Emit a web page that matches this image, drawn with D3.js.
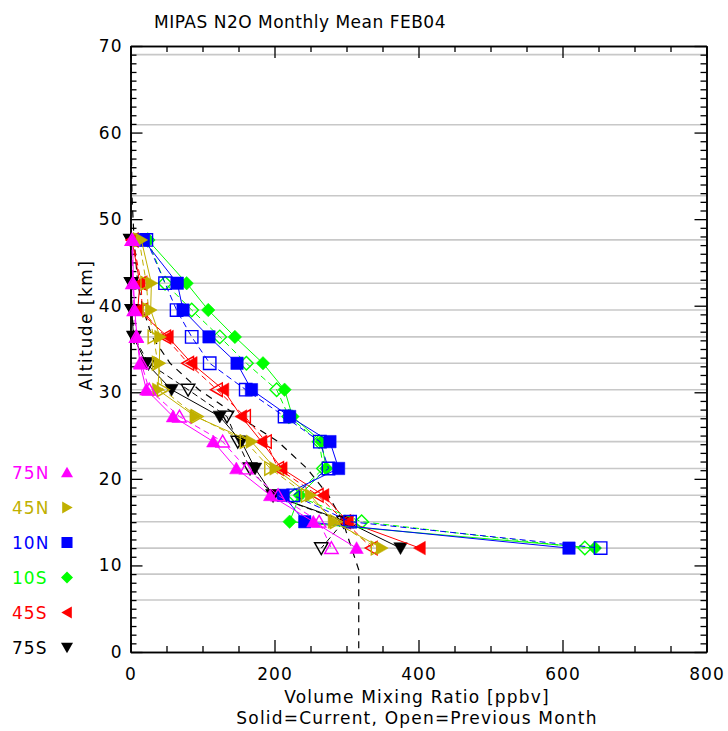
<!DOCTYPE html>
<html><head><meta charset="utf-8">
<script src="https://cdn.jsdelivr.net/npm/d3@7"></script>
<style>
html,body{margin:0;padding:0;background:#fff;}
svg{display:block;font-family:"DejaVu Sans",sans-serif;}
</style></head>
<body>
<svg id="chart" width="728" height="731"></svg>
<script>
// ---- data ----
const titleText = "MIPAS N2O Monthly Mean FEB04";
const xLabel = "Volume Mixing Ratio [ppbv]";
const xLabel2 = "Solid=Current, Open=Previous Month";
const yLabel = "Altitude [km]";
const xTicks = [0, 200, 400, 600, 800];
const yTicks = [0, 10, 20, 30, 40, 50, 60, 70];
const gridAltitudes = [6, 9, 12, 15.05, 18.1, 21.2, 24.3, 27.2, 30.3, 33.35, 36.4, 39.5, 42.6, 47.6, 52.7, 60.9, 69];
const altitudes = [47.6, 42.6, 39.5, 36.4, 33.35, 30.3, 27.2, 24.3, 21.2, 18.1, 15.05, 12.0];
const bands = ["75N", "45N", "10N", "10S", "45S", "75S"];
const bandColors = ["#ff00ff", "#c0b000", "#0000ff", "#00ff00", "#ff0000", "#000000"];
const bandShapes = ["up", "right", "square", "diamond", "left", "down"];
// current month (solid)
const cur75N = [3, 4, 6, 9, 13, 22, 59, 115, 147, 194, 254, 314];
const cur45N = [15, 29, 28, 41, 40, 38, 90, 168, 201, 250, 282, 349];
const cur10N = [18, 65, 73, 109, 148, 168, 221, 277, 289, 212, 242, 609];
const cur10S = [24, 78, 108, 145, 184, 214, 225, 265, 272, 235, 221, 645];
const cur45S = [2, 13, 10, 52, 85, 129, 154, 182, 210, 268, 302, 402];
const cur75S = [0, 1, 2, 4, 22, 57, 124, 154, 173, 198, 300, 375];
// previous month (open)
const prev75N = [2, 3, 5, 8, 15, 26, 68, 128, 161, 205, 262, 279];
const prev45N = [12, 22, 25, 32, 38, 45, 92, 160, 194, 245, 285, 342];
const prev10N = [22, 48, 64, 85, 110, 160, 214, 263, 275, 226, 305, 653];
const prev10S = [24, 48, 85, 124, 161, 203, 220, 262, 268, 228, 321, 631];
const prev45S = [3, 15, 16, 48, 80, 120, 159, 188, 205, 260, 298, 335];
const prev75S = [0, 1, 2, 5, 25, 80, 134, 149, 166, 198, 296, 265];
// reference (dashed black) profile
const refAlt = [69, 60.9, 52.7, 47.6, 42.6, 39.5, 36.4, 33.35, 30.3, 27.2, 24.3, 21.2, 18.1, 15.05, 12.0, 9.5, 0];
const refVal = [1, 1, 2, 5, 10, 18, 30, 55, 95, 150, 205, 245, 275, 295, 307, 317, 317];

const curSeries = [cur75N, cur45N, cur10N, cur10S, cur45S, cur75S];
const prevSeries = [prev75N, prev45N, prev10N, prev10S, prev45S, prev75S];

// ---- drawing ----
const svg = d3.select("#chart");
const x = d3.scaleLinear().domain([0, 800]).range([130.5, 706.5]);
const y = d3.scaleLinear().domain([0, 70]).range([652, 46]);
const fontFam = '"DejaVu Sans", sans-serif';

function shapePath(t, s) {
  const h = s / 2;
  switch (t) {
    case "up": return `M${-h},${h*0.8}L${h},${h*0.8}L0,${-h*0.95}Z`;
    case "down": return `M${-h},${-h*0.8}L${h},${-h*0.8}L0,${h*0.95}Z`;
    case "right": return `M${-h*0.8},${-h}L${-h*0.8},${h}L${h*0.95},0Z`;
    case "left": return `M${h*0.8},${-h}L${h*0.8},${h}L${-h*0.95},0Z`;
    case "square": const q = h*0.92; return `M${-q},${-q}L${q},${-q}L${q},${q}L${-q},${q}Z`;
    case "diamond": return `M0,${-h}L${h},0L0,${h}L${-h},0Z`;
  }
}

// gridlines
svg.append("g").selectAll("line").data(gridAltitudes).join("line")
  .attr("x1", x(0)).attr("x2", x(800))
  .attr("y1", d => y(d)).attr("y2", d => y(d))
  .attr("stroke", "#c8c8c8").attr("stroke-width", 1.6);

// axes
const minorX = d3.range(0, 801, 50).filter(v => v % 200 !== 0);
const minorY = d3.range(0, 71, 1).filter(v => v % 10 !== 0);
function tickAxis(g, axis) {
  g.call(axis);
  g.select(".domain").attr("stroke", "#000").attr("stroke-width", 1.5);
  g.selectAll(".tick line").attr("stroke", "#000").attr("stroke-width", 1.3);
  g.selectAll("text").attr("font-size", 17).attr("font-family", fontFam)
    .attr("fill", "#000").attr("letter-spacing", 1);
}
// bottom
tickAxis(svg.append("g").attr("transform", `translate(0,${y(0)})`),
  d3.axisBottom(x).tickValues(xTicks).tickSize(-12).tickPadding(16).tickSizeOuter(0));
tickAxis(svg.append("g").attr("transform", `translate(0,${y(0)})`),
  d3.axisBottom(x).tickValues(minorX).tickSize(-6).tickFormat("").tickSizeOuter(0));
// top
tickAxis(svg.append("g").attr("transform", `translate(0,${y(70)})`),
  d3.axisTop(x).tickValues(xTicks).tickSize(-12).tickFormat("").tickSizeOuter(0));
tickAxis(svg.append("g").attr("transform", `translate(0,${y(70)})`),
  d3.axisTop(x).tickValues(minorX).tickSize(-6).tickFormat("").tickSizeOuter(0));
// left
tickAxis(svg.append("g").attr("transform", `translate(${x(0)},0)`),
  d3.axisLeft(y).tickValues(yTicks).tickSize(-12).tickPadding(8).tickSizeOuter(0));
tickAxis(svg.append("g").attr("transform", `translate(${x(0)},0)`),
  d3.axisLeft(y).tickValues(minorY).tickSize(-6).tickFormat("").tickSizeOuter(0));
// right
tickAxis(svg.append("g").attr("transform", `translate(${x(800)},0)`),
  d3.axisRight(y).tickValues(yTicks).tickSize(-12).tickFormat("").tickSizeOuter(0));
tickAxis(svg.append("g").attr("transform", `translate(${x(800)},0)`),
  d3.axisRight(y).tickValues(minorY).tickSize(-6).tickFormat("").tickSizeOuter(0));

// reference dashed profile
const line = d3.line().x(d => x(d[0])).y(d => y(d[1]));
svg.append("path").datum(refVal.map((v, i) => [v, refAlt[i]]))
  .attr("d", line).attr("fill", "none").attr("stroke", "#000")
  .attr("stroke-width", 1.2).attr("stroke-dasharray", "7,6");

// series (drawn from 75S up to 75N so that 75N ends on top)
const plotG = svg.append("g");
d3.range(bands.length).reverse().forEach(i => {
  const col = bandColors[i], shp = bandShapes[i];
  const prevPts = prevSeries[i].map((v, k) => [v, altitudes[k]]);
  const curPts = curSeries[i].map((v, k) => [v, altitudes[k]]);
  plotG.append("path").datum(prevPts).attr("d", line).attr("fill", "none")
    .attr("stroke", col).attr("stroke-width", 1).attr("stroke-dasharray", "6,4");
  plotG.append("path").datum(curPts).attr("d", line).attr("fill", "none")
    .attr("stroke", col).attr("stroke-width", 1);
  plotG.append("g").selectAll("path").data(prevPts).join("path")
    .attr("transform", d => `translate(${x(d[0])},${y(d[1])})`)
    .attr("d", shapePath(shp, 13.5)).attr("fill", "none").attr("stroke", col).attr("stroke-width", 1.4);
  plotG.append("g").selectAll("path").data(curPts).join("path")
    .attr("transform", d => `translate(${x(d[0])},${y(d[1])})`)
    .attr("d", shapePath(shp, 13.5)).attr("fill", col).attr("stroke", col).attr("stroke-width", 0.5);
});

// legend
const legY = d3.scaleBand().domain(bands).range([455, 665]);
const leg = svg.append("g");
bands.forEach((b, i) => {
  const cy = legY(b) + legY.bandwidth() / 2;
  leg.append("text").attr("x", 12).attr("y", cy).attr("dy", "0.36em")
    .attr("font-size", 17).attr("font-family", fontFam).attr("fill", bandColors[i])
    .attr("letter-spacing", 1).text(b);
  leg.append("path").attr("transform", `translate(67,${cy})`)
    .attr("d", shapePath(bandShapes[i], 12)).attr("fill", bandColors[i]);
});

// titles
svg.append("text").attr("x", 300).attr("y", 28).attr("text-anchor", "middle")
  .attr("font-size", 17).attr("font-family", fontFam).attr("letter-spacing", 0.5).text(titleText);
svg.append("text").attr("x", 417).attr("y", 703).attr("text-anchor", "middle")
  .attr("font-size", 17).attr("font-family", fontFam).attr("letter-spacing", 1.2).text(xLabel);
svg.append("text").attr("x", 417).attr("y", 724).attr("text-anchor", "middle")
  .attr("font-size", 17).attr("font-family", fontFam).attr("letter-spacing", 1.2).text(xLabel2);
svg.append("text").attr("transform", `translate(92,325) rotate(-90)`).attr("text-anchor", "middle")
  .attr("font-size", 17).attr("font-family", fontFam).attr("letter-spacing", 1.5).text(yLabel);
</script>
</body></html>
